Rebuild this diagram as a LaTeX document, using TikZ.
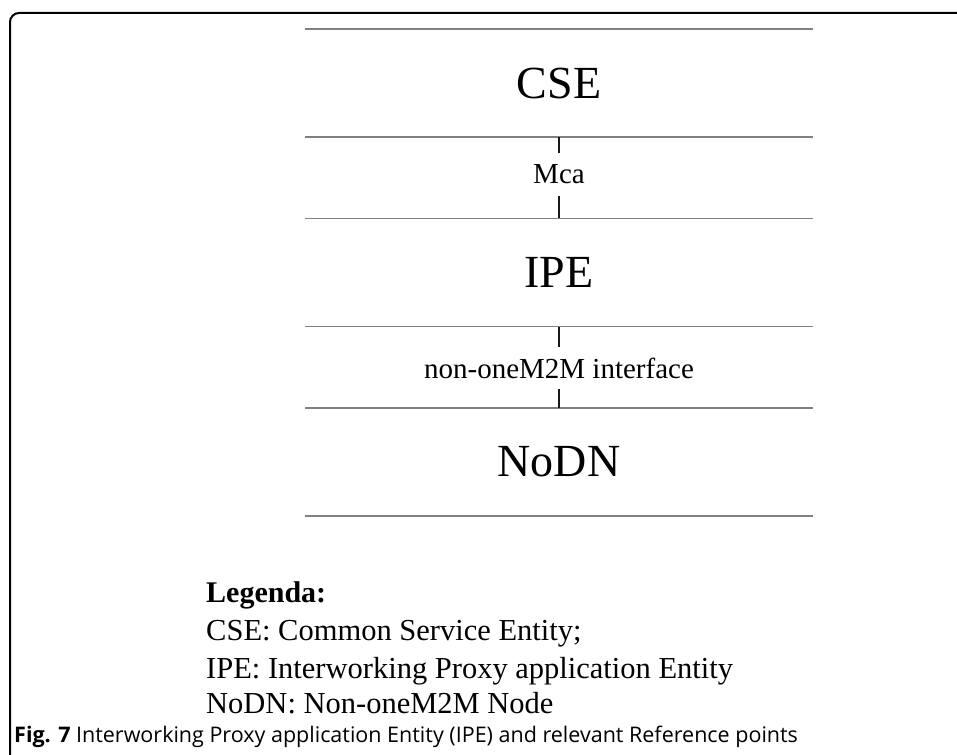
\documentclass[tikz,border=0pt]{standalone}
\usepackage{fontspec}
\setmainfont{Liberation Serif}
\newfontfamily\capfont{Open Sans}
\tikzset{
  entity/.style={minimum width=508pt, minimum height=108pt, inner sep=0pt,
    font=\fontsize{46}{50}\selectfont},
  refpoint/.style={minimum height=42pt, inner sep=0pt,
    font=\fontsize{29}{32}\selectfont},
  boxline/.style={draw=black!50, line width=1.5pt},
  link/.style={draw=black!90, line width=2.2pt},
  legend/.style={anchor=base west, inner sep=0pt,
    font=\fontsize{30.5}{34}\selectfont}
}
\begin{document}
\begin{tikzpicture}[x=1pt,y=-1pt]
  \useasboundingbox (0,0) rectangle (957,754);
  % outer frame
  \draw[line width=2pt, rounded corners=9pt] (960,13) -- (10,13) -- (10,760);
  % entities
  \node[entity] (cse) at (559,83) {CSE};
  \node[entity] (ipe) at (559,272.5) {IPE};
  \node[entity] (nodn) at (559,462) {NoDN};
  \begin{scope}[boxline]
    \draw (cse.north west) to (cse.north east);
    \draw (cse.south west) to (cse.south east);
    \draw (ipe.north west) to (ipe.north east);
    \draw (ipe.south west) to (ipe.south east);
    \draw (nodn.north west) to (nodn.north east);
    \draw (nodn.south west) to (nodn.south east);
  \end{scope}
  % reference points
  \node[refpoint] (mca) at (559,174.5) {Mca};
  \node[refpoint] (nonif) at (559,368) {non-oneM2M interface};
  \begin{scope}[link]
    \draw (cse) to (mca);
    \draw (mca) to (ipe);
    \draw (ipe) to (nonif);
    \draw (nonif) to (nodn);
  \end{scope}
  % legend
  \node[legend, font=\fontsize{30}{34}\selectfont\bfseries] (legtitle) at (206,602) {Legenda:};
  \node[legend] (legcse) at (206,640) {CSE: Common Service Entity;};
  \node[legend] (legipe) at (206,678) {IPE: Interworking Proxy application Entity};
  \node[legend] (legnodn) at (206,713) {NoDN: Non-oneM2M Node};
  % caption
  \node[anchor=base west, inner sep=0pt, font=\capfont\fontsize{21.5}{24}\selectfont]
    (caption) at (14,742) {\textbf{Fig. 7} Interworking Proxy application Entity (IPE) and relevant Reference points};
\end{tikzpicture}
\end{document}
